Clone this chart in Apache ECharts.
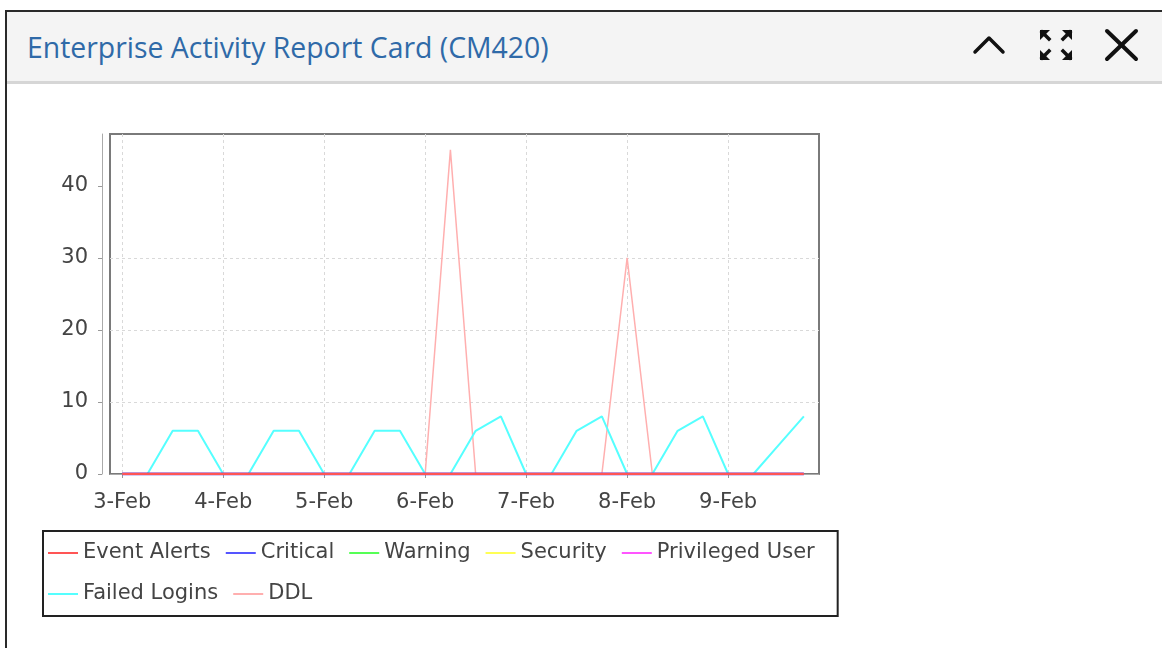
<!DOCTYPE html>
<html>
<head>
<meta charset="utf-8">
<script src="https://cdn.jsdelivr.net/npm/echarts@6/dist/echarts.min.js"></script>
<style>
  html, body { margin: 0; padding: 0; background: #ffffff; width: 1162px; height: 648px; overflow: hidden; }
  #card { position: absolute; left: 5px; top: 10px; width: 1170px; height: 660px; border: 2px solid #2a2a2a; box-sizing: border-box; background: #ffffff; }
  #header { position: absolute; left: 0; top: 0; right: 0; height: 69px; background: #f4f4f4; border-bottom: 3px solid #d6d6d6; }
  #title { position: absolute; left: 20px; top: 16px; font-family: "Open Sans", sans-serif; font-size: 28.4px; color: #2f6aa8; white-space: nowrap; }
  #icons { position: absolute; left: 0; top: 0; }
  #chart { position: absolute; left: 0; top: 0; width: 1162px; height: 648px; }
</style>
</head>
<body>
<div id="card">
  <div id="header"><div id="title">Enterprise Activity Report Card (CM420)</div></div>
</div>
<svg id="icons" width="1162" height="90" style="position:absolute;left:0;top:0">
  <polyline points="975,52 989,38 1003,52" fill="none" stroke="#111" stroke-width="3.5" stroke-linecap="round" stroke-linejoin="round"/>
  <g fill="#111">
    <polygon points="1040,30 1050,30 1040,40"/>
    <polygon points="1072,30 1062,30 1072,40"/>
    <polygon points="1040,60 1050,60 1040,50"/>
    <polygon points="1072,60 1062,60 1072,50"/>
  </g>
  <g stroke="#111" stroke-width="3.5" stroke-linecap="square">
    <line x1="1042" y1="32" x2="1049" y2="39"/>
    <line x1="1070" y1="32" x2="1063" y2="39"/>
    <line x1="1042" y1="58" x2="1049" y2="51"/>
    <line x1="1070" y1="58" x2="1063" y2="51"/>
  </g>
  <g stroke="#111" stroke-width="4" stroke-linecap="round">
    <line x1="1107" y1="31" x2="1136" y2="59"/>
    <line x1="1136" y1="31" x2="1107" y2="59"/>
  </g>
</svg>
<div id="chart"></div>
<script>
// ---- data ----
const times = [
  '2020-02-03 00:00','2020-02-03 06:00','2020-02-03 12:00','2020-02-03 18:00',
  '2020-02-04 00:00','2020-02-04 06:00','2020-02-04 12:00','2020-02-04 18:00',
  '2020-02-05 00:00','2020-02-05 06:00','2020-02-05 12:00','2020-02-05 18:00',
  '2020-02-06 00:00','2020-02-06 06:00','2020-02-06 12:00','2020-02-06 18:00',
  '2020-02-07 00:00','2020-02-07 06:00','2020-02-07 12:00','2020-02-07 18:00',
  '2020-02-08 00:00','2020-02-08 06:00','2020-02-08 12:00','2020-02-08 18:00',
  '2020-02-09 00:00','2020-02-09 06:00','2020-02-09 12:00','2020-02-09 18:00'
];
const seriesNames = ['Event Alerts', 'Critical', 'Warning', 'Security', 'Privileged User', 'Failed Logins', 'DDL'];
const eventAlerts    = [0,0,0,0, 0,0,0,0, 0,0,0,0, 0,0,0,0, 0,0,0,0, 0,0,0,0, 0,0,0,0];
const critical       = [0,0,0,0, 0,0,0,0, 0,0,0,0, 0,0,0,0, 0,0,0,0, 0,0,0,0, 0,0,0,0];
const warning        = [0,0,0,0, 0,0,0,0, 0,0,0,0, 0,0,0,0, 0,0,0,0, 0,0,0,0, 0,0,0,0];
const security       = [0,0,0,0, 0,0,0,0, 0,0,0,0, 0,0,0,0, 0,0,0,0, 0,0,0,0, 0,0,0,0];
const privilegedUser = [0,0,0,0, 0,0,0,0, 0,0,0,0, 0,0,0,0, 0,0,0,0, 0,0,0,0, 0,0,0,0];
const failedLogins   = [0,0,6,6, 0,0,6,6, 0,0,6,6, 0,0,6,8, 0,0,6,8, 0,0,6,8, 0,0,4,8];
const ddl            = [0,0,0,0, 0,0,0,0, 0,0,0,0, 0,45,0,0, 0,0,0,0, 30,0,0,0, 0,0,0,0];
const yTicks = [0, 10, 20, 30, 40];

// ---- styles ----
const colors = ['#FF5555', '#5555FF', '#55FF55', '#FFFF55', '#FF55FF', '#55FFFF', '#FFAFAF'];
const values = [eventAlerts, critical, warning, security, privilegedUser, failedLogins, ddl];
const zOrder = [9, 8, 7, 6, 5, 4, 3];
const widths = [2.5, 3, 2, 2, 2, 2, 1.5];

const chart = echarts.init(document.getElementById('chart'), null, { renderer: 'canvas' });
const font = 'DejaVu Sans';

const series = seriesNames.map((name, k) => ({
  name: name,
  type: 'line',
  symbol: 'none',
  z: zOrder[k],
  color: colors[k],
  lineStyle: { color: colors[k], width: widths[k] },
  data: times.map((t, i) => [t, values[k][i]])
}));

chart.setOption({
  animation: false,
  color: colors,
  grid: {
    left: 110, top: 134, width: 709, height: 340,
    show: true, borderColor: '#7a7a7a', borderWidth: 2, backgroundColor: 'transparent'
  },
  xAxis: {
    type: 'time',
    min: new Date(2020, 1, 2, 21, 6).getTime(),
    max: new Date(2020, 1, 9, 21, 36).getTime(),
    minInterval: 24 * 3600 * 1000,
    maxInterval: 24 * 3600 * 1000,
    offset: 9,
    axisLine: { show: true, lineStyle: { color: '#aaaaaa', width: 1 } },
    axisTick: { show: true, length: 4, lineStyle: { color: '#999999' } },
    axisLabel: {
      formatter: '{d}-{MMM}', fontFamily: font, fontSize: 21, color: '#444444', margin: 9,
      showMinLabel: false, showMaxLabel: false
    },
    splitLine: { show: true, showMinLine: false, showMaxLine: false, lineStyle: { color: '#d9d9d9', type: [3, 3], width: 1 } }
  },
  yAxis: {
    type: 'value',
    min: 0, max: 47.2, interval: 10,
    offset: 8,
    axisLine: { show: true, lineStyle: { color: '#aaaaaa', width: 1 } },
    axisTick: { show: true, length: 4, customValues: yTicks, lineStyle: { color: '#999999' } },
    axisLabel: {
      fontFamily: font, fontSize: 21, color: '#444444', margin: 14,
      customValues: yTicks
    },
    splitLine: { show: true, showMinLine: false, showMaxLine: false, lineStyle: { color: '#d9d9d9', type: [3, 3], width: 1 } }
  },
  legend: {
    data: ['Event Alerts', 'Critical', 'Warning', 'Security', 'Privileged User', '\n', 'Failed Logins', 'DDL'],
    left: 43, top: 531,
    orient: 'horizontal',
    padding: [9, 23, 9, 5],
    icon: 'rect',
    itemWidth: 30, itemHeight: 2, itemGap: 15,
    borderColor: '#222222', borderWidth: 2,
    textStyle: { fontFamily: font, fontSize: 21, color: '#444444', lineHeight: 26 },
    inactiveColor: '#cccccc'
  },
  series: series
});
</script>
</body>
</html>
